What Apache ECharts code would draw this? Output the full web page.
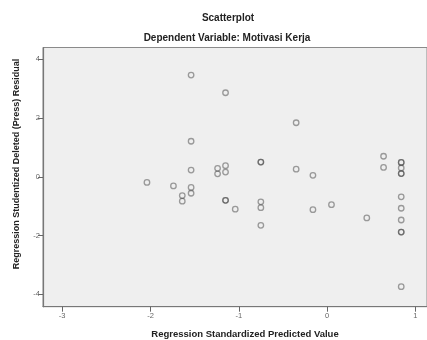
<!DOCTYPE html>
<html>
<head>
<meta charset="utf-8">
<script src="https://cdn.jsdelivr.net/npm/echarts@6/dist/echarts.min.js"></script>
<style>html,body{margin:0;padding:0;background:#fff}#c{width:427px;height:340px}</style>
</head>
<body>
<div id="c"></div>
<script>
const predicted = [-2.04,-1.74,-1.64,-1.64,-1.54,-1.54,-1.54,-1.54,-1.54,-1.24,-1.24,-1.15,-1.15,-1.15,-1.15,-1.15,-1.04,-0.75,-0.75,-0.75,-0.75,-0.75,-0.35,-0.35,-0.16,-0.16,0.05,0.45,0.64,0.64,0.84,0.84,0.84,0.84,0.84,0.84,0.84,0.84,0.84,0.84,0.84];
const residual  = [-0.19,-0.31,-0.64,-0.83,3.46,1.21,0.23,-0.36,-0.56,0.29,0.10,2.86,0.38,0.16,-0.80,-0.80,-1.10,0.50,0.50,-0.85,-1.05,-1.65,1.84,0.26,0.05,-1.12,-0.95,-1.40,0.70,0.32,0.49,0.49,0.30,0.11,0.11,-0.68,-1.07,-1.47,-1.88,-1.88,-3.74];
const xTicks = [-3,-2,-1,0,1];
const yTicks = [-4,-2,0,2,4];
const titleText = 'Scatterplot';
const subtitleText = 'Dependent Variable: Motivasi Kerja';
const xName = 'Regression Standardized Predicted Value';
const yName = 'Regression Studentized Deleted (Press) Residual';

const font = 'Liberation Sans, Arial, sans-serif';
const chart = echarts.init(document.getElementById('c'), null, {renderer:'canvas'});
chart.setOption({
  animation:false,
  backgroundColor:'#ffffff',
  title:[
    {text:titleText,left:223,top:8,textAlign:'center',textStyle:{fontFamily:font,fontSize:10,fontWeight:'bold',color:'#222'}},
    {text:subtitleText,left:222,top:28,textAlign:'center',textStyle:{fontFamily:font,fontSize:10,fontWeight:'bold',color:'#222'}},
    {text:xName,left:240,top:324,textAlign:'center',textStyle:{fontFamily:font,fontSize:9.5,fontWeight:'bold',color:'#222'}}
  ],
  graphic:[{type:'text',x:17,y:164,rotation:Math.PI/2,style:{text:yName,fill:'#222',font:'bold 9px '+font,align:'center',verticalAlign:'middle'}}],
  grid:{left:43,top:47.5,right:-2,bottom:33.3,show:true,backgroundColor:'#efefef',borderColor:'#8a8a8a',borderWidth:1},
  xAxis:{type:'value',min:-3.2175,max:1.132,
    axisLine:{show:true,onZero:false,lineStyle:{color:'#777',width:1.2}},
    splitLine:{show:false},
    axisTick:{show:true,length:5,customValues:xTicks,lineStyle:{color:'#666'}},
    axisLabel:{customValues:xTicks,margin:5,fontFamily:font,fontSize:7.5,color:'#666'}
  },
  yAxis:{type:'value',min:-4.42,max:4.40,
    axisLine:{show:true,onZero:false,lineStyle:{color:'#777',width:1.2}},
    splitLine:{show:false},
    axisTick:{show:true,length:5,customValues:yTicks,lineStyle:{color:'#666'}},
    axisLabel:{customValues:yTicks,margin:3,fontFamily:font,fontSize:7.5,color:'#666'}
  },
  series:[{type:'scatter',symbol:'circle',symbolSize:5.5,
    data:predicted.map((v,i)=>[v,residual[i]]),
    itemStyle:{color:'rgba(0,0,0,0)',borderColor:'rgba(58,58,58,0.6)',borderWidth:1.3}
  }]
});
</script>
</body>
</html>
